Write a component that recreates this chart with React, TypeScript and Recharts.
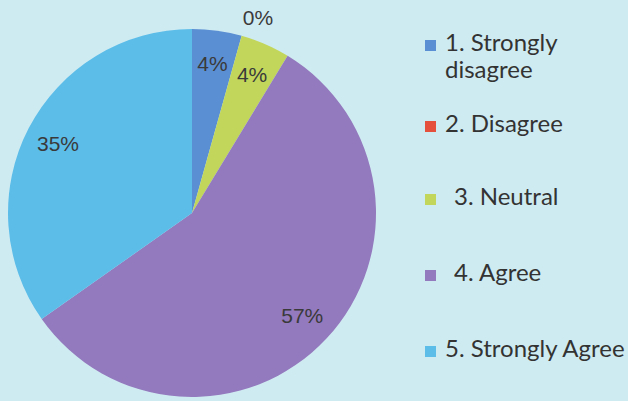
import { PieChart, Pie, Cell, Legend } from "recharts";

const categories = [
  "1. Strongly disagree",
  "2. Disagree",
  "3. Neutral",
  "4. Agree",
  "5. Strongly Agree",
];
const counts = [1, 0, 1, 13, 8];
const colors = ["#5b8fd3", "#e5503c", "#c2d65c", "#9379bd", "#5cbde9"];
const legendLines = [["1. Strongly", "disagree"], ["2. Disagree"], ["3. Neutral"], ["4. Agree"], ["5. Strongly Agree"]];

const total = counts.reduce((a, b) => a + b, 0);
const data = categories.map((name, i) => ({ name, value: counts[i] }));

const RAD = Math.PI / 180;

const renderLabel = (props: any) => {
  const { cx, cy, midAngle, outerRadius, value } = props;
  // zero slice gets its label just outside the rim, a bit clockwise
  const r = value === 0 ? outerRadius + 22 : outerRadius * 0.82;
  const a = value === 0 ? midAngle - 3 : midAngle;
  const x = cx + r * Math.cos(-a * RAD);
  const y = cy + r * Math.sin(-a * RAD);
  return (
    <text
      x={x}
      y={y}
      textAnchor="middle"
      dominantBaseline="central"
      fill="#3a3a3a"
      fontSize={21}
      fontFamily="Liberation Sans, Arial, sans-serif"
    >
      {Math.round((value / total) * 100)}%
    </text>
  );
};

const LegendBox = () => {
  const rows = [46, 127, 200, 276, 352];
  return (
    <div style={{ position: "absolute", left: 0, top: 0 }}>
      {legendLines.map((lines, i) => (
        <div key={i} style={{ position: "absolute", left: 425, top: rows[i] - 10, whiteSpace: "nowrap" }}>
          <div
            style={{
              position: "absolute",
              left: 0,
              top: 4,
              width: 11,
              height: 11,
              background: colors[i],
            }}
          />
          <div
            style={{
              position: "absolute",
              left: i === 2 || i === 3 ? 29 : 20,
              top: -8,
              fontFamily: "Lato, sans-serif",
              fontSize: 24,
              lineHeight: "27px",
              color: "#333",
            }}
          >
            {lines.map((l, j) => (
              <div key={j}>{l}</div>
            ))}
          </div>
        </div>
      ))}
    </div>
  );
};

export default function App() {
  return (
    <div
      style={{
        position: "fixed",
        left: 0,
        top: 0,
        width: 628,
        height: 401,
        background: "#cfebf2",
        overflow: "hidden",
      }}
    >
      <PieChart width={628} height={401} margin={{ top: 0, right: 0, bottom: 0, left: 0 }}>
        <Pie
          data={data}
          dataKey="value"
          nameKey="name"
          cx={192}
          cy={213}
          outerRadius={184}
          startAngle={90}
          endAngle={-270}
          stroke="none"
          label={renderLabel}
          labelLine={false}
          isAnimationActive={false}
        >
          {data.map((d, i) => (
            <Cell key={d.name} fill={colors[i]} />
          ))}
        </Pie>
        <Legend content={() => null} />
      </PieChart>
      <LegendBox />
    </div>
  );
}
